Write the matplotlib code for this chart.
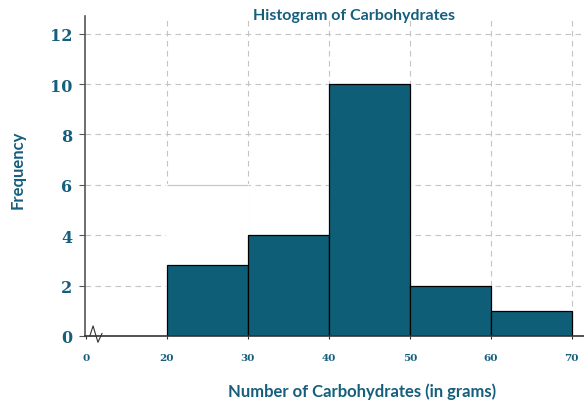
import matplotlib.pyplot as plt
import matplotlib as mpl

# histogram data
bin_edges = [20, 30, 40, 50, 60, 70]
counts = [2.8, 4, 10, 2, 1]
ghost_count = 6  # white leftover bar in the 20-30 bin
tick_labels = ['0', '20', '30', '40', '50', '60', '70']
tick_pos = [10, 20, 30, 40, 50, 60, 70]  # axis is broken between 0 and 20
y_ticks = [0, 2, 4, 6, 8, 10, 12]

teal = '#155f7c'
bar_color = '#0e5e78'
grid_style = dict(linestyle=(0, (5, 4)), color='#c4c4c4', linewidth=0.8)

fig = plt.figure(figsize=(5.84, 4.02), dpi=100)
ax = fig.add_axes([0.1455, 0.1617, 0.8545, 0.796])

ax.set_xlim(9.9, 71.5)
ax.set_ylim(0, 12.7)

for s in ['top', 'right']:
    ax.spines[s].set_visible(False)
ax.spines['left'].set_color('#555555')
ax.spines['bottom'].set_color('#333333')
ax.spines['left'].set_linewidth(1.2)
ax.spines['bottom'].set_linewidth(1.2)

# grid: horizontal via axis grid, vertical only at the bin edges
ax.set_axisbelow(True)
ax.yaxis.grid(True, **grid_style)
for x in bin_edges:
    ax.axvline(x, zorder=0, **grid_style)

widths = [bin_edges[i + 1] - bin_edges[i] for i in range(len(counts))]

# white bar hides the grid in the first bin
ax.bar(bin_edges[0], ghost_count, width=widths[0], align='edge',
       color='white', edgecolor='white', linewidth=1.6, zorder=1)
ax.hlines(ghost_count, bin_edges[0], bin_edges[1], color='#c8c8c8',
          linewidth=0.9, zorder=1.5)
ax.bar(bin_edges[:-1], counts, width=widths, align='edge',
       color=bar_color, edgecolor='black', linewidth=0.9, zorder=2)

ax.set_xticks(tick_pos)
ax.set_xticklabels(tick_labels, fontsize=7.5, fontweight='bold',
                   family='DejaVu Serif', color=teal)
ax.set_yticks(y_ticks)
ax.set_yticklabels([str(v) for v in y_ticks], fontsize=11.5, fontweight='bold',
                   family='DejaVu Serif', color=teal)
ax.tick_params(axis='x', length=2, color='#333333', pad=10)
ax.tick_params(axis='y', length=4, color='#555555', pad=5)

# axis break mark
ax.plot([10.5, 10.9, 11.5, 12.0], [0, 0.4, -0.25, 0.1],
        color='#333333', linewidth=0.8, clip_on=False, zorder=3)

fig.text(0.606, 0.96, 'Histogram of Carbohydrates', fontsize=11.5,
         fontweight='bold', family='Lato', color=teal, ha='center', va='center')
fig.text(0.62, 0.012, 'Number of Carbohydrates (in grams)', fontsize=12,
         fontweight='bold', family='Lato', color=teal, ha='center')
fig.text(0.03, 0.578, 'Frequency', fontsize=12, fontweight='bold',
         family='Lato', color=teal, rotation=90, ha='center', va='center')

plt.savefig('out.png', dpi=100)
